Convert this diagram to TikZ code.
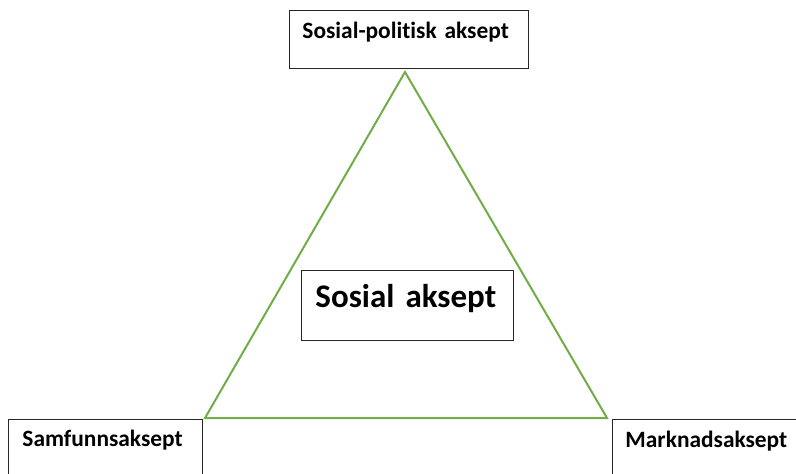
\documentclass[tikz,border=0pt]{standalone}
\usepackage{fontspec}
\setmainfont{Carlito}[Ligatures=NoCommon]

\definecolor{trekant}{HTML}{70AD47}
\tikzset{
	aksept/.style={draw=black!85,line width=0.9pt,anchor=north west,inner ysep=0pt,align=left,
		font=\bfseries\fontsize{23.4}{24}\selectfont}
}

\begin{document}
\begin{tikzpicture}[x=1pt,y=-1pt]
		\clip (0,0) rectangle (796,474);
		\coordinate (topp) at (405,72);
		\coordinate (venstre) at (205,418);
		\coordinate (hogre) at (607,418);
		\draw[line width=2pt,trekant] (topp) -- (venstre) -- (hogre) -- cycle;
		\node[aksept,inner xsep=13pt,text width=213pt,text height=28pt,text depth=30pt] (politisk) at (289,10) {Sosial-politisk aksept};
		\node[aksept,inner xsep=14pt,text width=166pt,text height=27pt,text depth=60pt] (samfunn) at (8,419) {Samfunnsaksept};
		\node[aksept,inner xsep=13pt,text width=200pt,text height=28pt,text depth=60pt] (marknad) at (612,419) {Marknadsaksept};
		\node[aksept,inner xsep=14pt,text width=184pt,text height=37pt,text depth=33pt,
			font=\bfseries\fontsize{33}{34}\selectfont] (sosial) at (301,270) {Sosial aksept};
	\end{tikzpicture}
\end{document}
